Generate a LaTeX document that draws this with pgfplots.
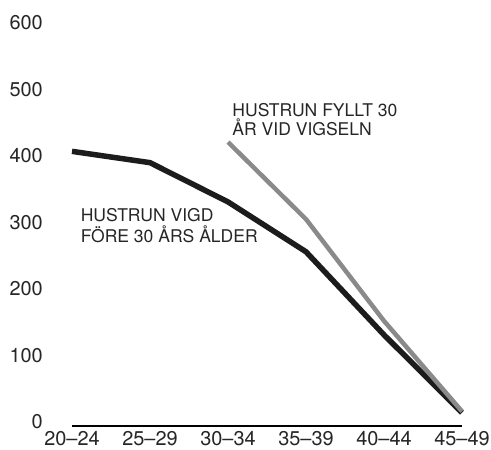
\documentclass[border=0pt]{standalone}
\usepackage{fontspec}
\setmainfont{TeX Gyre Heros}
\usepackage{pgfplots}
\pgfplotsset{compat=1.18}
\definecolor{lineblack}{HTML}{1C1C1C}
\definecolor{linegray}{HTML}{8A8A8A}
\begin{document}
\begin{tikzpicture}
\begin{axis}[
  at={(72bp,24bp)}, anchor=south west,
  scale only axis, width=390bp, height=399bp,
  xmin=0, xmax=5, ymin=0, ymax=600,
  axis x line=bottom, axis y line=left,
  x axis line style={-, line width=2.5bp, black},
  y axis line style={draw=none},
  major tick length=0pt, tick style={draw=none},
  xtick={0,1,2,3,4,5},
  xticklabels={20--24,25--29,30--34,35--39,40--44,45--49},
  ytick={0,100,200,300,400,500,600},
  /pgf/number format/assume math mode=true,
  ticklabel style={font=\fontsize{20}{24}\selectfont, text=black!85},
  yticklabel style={anchor=east, inner sep=0pt, xshift=-29bp, yshift=4bp},
  xticklabel style={anchor=north, inner sep=0pt, yshift=-5.5bp},
  clip=false,
]
\addplot[color=lineblack, line width=5.5bp] coordinates {(0,413) (1,396) (2,337) (3,262) (4,137) (5,20)};
\addplot[color=linegray, line width=4.5bp] coordinates {(2,427) (3,311) (4,158) (5,22)};
\node[anchor=base west, inner sep=0pt, font=\fontsize{17.6}{19}\selectfont, text=black!85] at (axis cs:0.11,307) {HUSTRUN VIGD};
\node[anchor=base west, inner sep=0pt, font=\fontsize{17.6}{19}\selectfont, text=black!85] at (axis cs:0.11,276) {FÖRE 30 ÅRS ÅLDER};
\node[anchor=base west, inner sep=0pt, font=\fontsize{17.6}{19}\selectfont, text=black!85] at (axis cs:2.055,465) {HUSTRUN FYLLT 30};
\node[anchor=base west, inner sep=0pt, font=\fontsize{17.6}{19}\selectfont, text=black!85] at (axis cs:2.055,437) {ÅR VID VIGSELN};
\end{axis}
\pgfresetboundingbox
\path[use as bounding box] (0,0) rectangle (491bp,450bp);
\end{tikzpicture}
\end{document}
